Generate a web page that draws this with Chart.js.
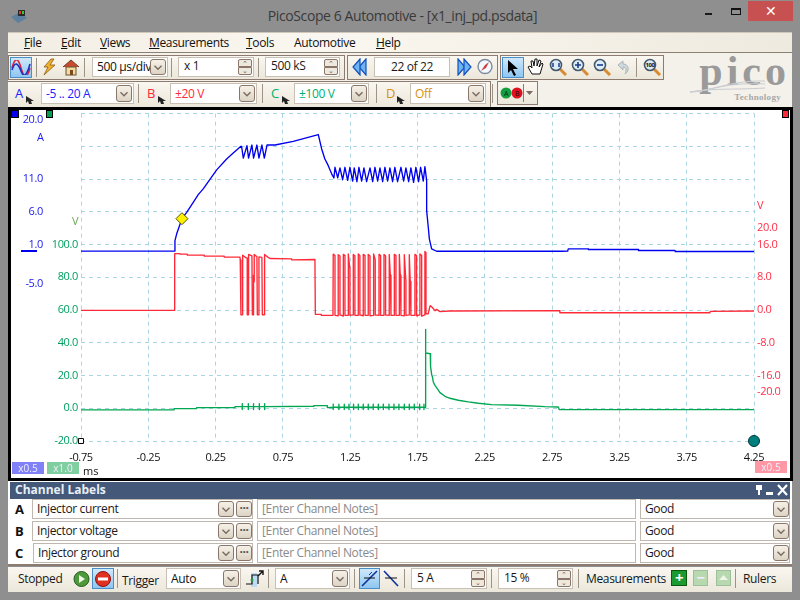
<!DOCTYPE html>
<html><head><meta charset="utf-8">
<script src="https://cdn.jsdelivr.net/npm/chart.js@4"></script>
<style>
html,body{margin:0;padding:0;width:800px;height:600px;overflow:hidden;background:#8f8f8f;font-family:"Open Sans","Noto Sans",sans-serif;font-size:12px;letter-spacing:-0.35px;color:#1a1a1a}
.a{position:absolute;white-space:nowrap;box-sizing:border-box}
u{text-decoration:underline}
</style></head><body>
<canvas id="c" style="position:absolute;left:12px;top:104px;width:776px;height:371px;z-index:5"></canvas>
<script>
const xTicks=[-0.75,-0.25,0.25,0.75,1.25,1.75,2.25,2.75,3.25,3.75,4.25];
const ampTicks=[20,11,6,1,-5];
const groundTicks=[100,80,60,40,20,0,-20];
const voltTicks=[20,16,8,0,-8,-16,-20];
const currentTimes=[-0.75,-0.054,-0.052,-0.039,-0.015,0,0.035,0.084,0.121,0.158,0.258,0.332,0.381,0.438,0.443,0.456,0.483,0.495,0.520,0.532,0.557,0.572,0.594,0.612,0.632,0.691,0.827,1.013,1.038,1.062,1.087,1.112,1.129,
1.137,1.157,1.174,1.194,1.211,1.231,1.248,1.268,1.280,1.300,1.315,1.335,1.352,1.372,1.397,1.417,1.434,1.454,1.471,1.491,1.508,1.528,1.545,1.565,1.582,1.602,1.627,1.647,1.664,1.684,1.701,1.721,1.738,1.758,1.773,1.793,1.805,
1.818,1.818,1.830,1.838,1.855,1.892,2.821,2.866,2.870,3.019,3.020,3.390,3.392,3.663,3.665,4.25];
const currentAmps=[0,0,1.6,2.64,4.05,4.95,5.93,7.46,8.63,9.5,12.4,14.07,14.98,16.0,16.0,14.2,16.1,14.2,16.2,14.2,16.2,14.2,16.2,14.2,16.2,16.2,16.75,17.8,15.6,14.07,13.05,11.8,11.17,
12.8,11.2,12.7,10.9,12.8,10.8,12.8,10.7,12.7,10.6,12.8,10.7,12.7,10.6,12.7,10.6,12.8,10.7,12.7,10.6,12.8,10.7,12.7,10.6,12.8,10.6,12.8,10.7,12.7,10.6,12.7,10.5,12.8,10.6,12.8,10.7,12.9,
10.76,6.19,3.64,1.87,0.35,-0.02,-0.02,0.0,0.35,0.35,0.24,0.24,0.09,0.09,-0.06,-0.06];
const voltageTimes=[-0.75,-0.054,-0.054,-0.015,-0.015,0.040,0.040,0.166,0.166,0.314,0.314,0.431,0.433,0.438,0.438,0.451,0.451,0.475,0.485,0.485,0.495,0.495,0.520,0.523,0.532,0.532,0.537,0.537,0.557,0.560,0.572,0.572,0.594,0.597,0.614,0.614,0.641,0.654,0.815,0.815,0.988,0.991,1.035,1.035,1.122,
1.124,1.137,1.137,1.161,1.161,1.174,1.174,1.199,1.199,1.211,1.211,1.236,1.236,1.248,1.248,1.273,1.273,1.285,1.285,1.310,1.310,1.322,1.322,1.347,1.347,1.360,1.360,1.384,1.384,1.397,1.397,1.424,1.424,1.436,1.436,1.464,1.464,1.476,1.476,1.501,1.501,1.513,1.513,1.540,1.540,1.548,1.553,1.553,1.578,1.578,1.590,1.590,1.615,1.615,1.622,1.627,1.627,1.652,1.652,1.664,1.664,1.689,1.689,1.696,1.701,1.701,1.731,1.731,1.743,1.743,1.768,1.768,1.781,1.781,1.805,1.805,1.813,1.813,1.830,1.843,1.847,1.862,1.880,1.892,1.917,1.991,2.806,2.808,3.539,3.923,3.925,4.25];
const voltageVolts=[-0.08,-0.08,13.8,13.8,13.66,13.66,13.41,13.41,13.17,13.17,12.93,12.93,12.2,12.2,-1.14,-1.14,13.41,12.76,12.76,-1.14,-1.14,13.58,13.25,-1.14,-1.14,8.54,6.91,13.58,13.0,-1.14,-1.14,13.0,12.85,-1.14,-1.14,13.58,12.85,12.6,12.52,12.27,12.36,-1.05,-1.05,-1.3,-1.3,
13.66,13.33,-1.3,-1.4,13.5,13.2,-1.2,-1.46,13.6,13.3,-1.3,-1.3,13.7,9.9,-1.3,-1.2,13.6,13.2,-1.3,-1.3,13.7,13.3,-1.2,-1.4,13.6,13.3,-1.3,-1.3,13.6,13.2,-1.4,-1.3,13.7,12.3,-1.2,-1.3,13.6,13.3,-1.3,-1.3,13.6,13.2,-1.2,-1.3,13.6,8.5,8.5,-1.3,-1.3,13.6,13.3,-1.3,-1.3,13.6,8.5,8.5,-1.3,-1.4,13.5,7.0,-1.3,-1.2,13.5,7.0,7.0,-1.3,-1.3,13.6,13.3,-1.4,-1.2,13.7,13.3,-1.5,-1.2,14.3,14.0,-0.9,-0.9,1.0,1.06,0.57,-0.16,0.16,-0.4,-0.24,-0.16,-0.65,-0.65,-0.65,-0.32,-0.24];
const groundTimes=[-0.75,-0.059,-0.059,0.109,0.109,0.394,0.394,
0.448,0.448,0.448,0.448,0.493,0.493,0.493,0.493,0.532,0.532,0.532,0.532,0.575,0.575,0.575,0.575,0.614,0.614,0.614,0.614,0.98,0.98,1.08,1.08,
1.124,1.124,1.124,1.124,1.166,1.166,1.166,1.166,1.206,1.206,1.206,1.206,1.241,1.241,1.241,1.241,1.275,1.275,1.275,1.275,1.310,1.310,1.310,1.310,1.347,1.347,1.347,1.347,1.384,1.384,1.384,1.384,1.421,1.421,1.421,1.421,1.459,1.459,1.459,1.459,1.496,1.496,1.496,1.496,1.538,1.538,1.538,1.538,1.575,1.575,1.575,1.575,1.612,1.612,1.612,1.612,1.652,1.652,1.652,1.652,1.689,1.689,1.689,1.689,1.726,1.726,1.726,1.726,1.766,1.766,1.766,1.766,1.798,1.798,1.798,1.798,
1.808,1.808,1.813,1.845,1.847,1.855,1.862,1.867,1.880,1.897,1.917,1.954,1.991,2.053,2.127,2.202,2.301,2.499,2.697,2.796,2.803,4.25];
const groundVolts=[-1.0,-1.0,-0.2,-0.2,0.4,0.4,1.0,
1.0,2.85,-0.8,1.0,1.0,2.85,-0.8,1.0,1.0,2.85,-0.8,1.0,1.0,2.85,-0.8,1.0,1.0,2.85,-0.8,1.0,1.2,1.63,1.63,0.4,
0.6,2.44,-0.8,0.6,0.6,2.44,-0.8,0.6,0.6,2.44,-0.8,0.6,0.6,2.44,-0.8,0.6,0.6,2.44,-0.8,0.6,0.6,2.44,-0.8,0.6,0.6,2.44,-0.8,0.6,0.6,2.44,-0.8,0.6,0.6,2.44,-0.8,0.6,0.6,2.44,-0.8,0.6,0.6,2.44,-0.8,0.6,0.6,2.44,-0.8,0.6,0.6,2.44,-0.8,0.6,0.6,2.44,-0.8,0.6,0.6,2.44,-0.8,0.6,0.6,2.44,-0.8,0.6,0.6,2.44,-0.8,0.6,0.6,2.44,-0.8,0.6,0.6,2.44,-0.8,0.6,
0.6,48.2,33.75,33.3,25.6,20.7,18.7,16.06,14,12,9.55,7.3,6.1,4.9,3.86,3.05,2.2,1.83,1.0,0.8,-0.8,-0.8];
const triggerTime=[0], triggerAmps=[4.95];
const rulerTime=[4.25], rulerVolts=[-20];
const originTime=[-0.75], originVolts=[-20];

function pts(xs,ys){return xs.map((x,i)=>({x:x,y:ys[i]}));}
function ln(xs,ys,col,axis){return {data:pts(xs,ys),borderColor:col,backgroundColor:col,borderWidth:1.35,borderJoinStyle:'round',pointRadius:0,tension:0,yAxisID:axis,clip:false};}
const tickFont={family:'"Open Sans"',size:11};
new Chart(document.getElementById('c'),{type:'line',data:{datasets:[
 Object.assign(ln(currentTimes,currentAmps,'#0000f0','yA'),{order:3}),
 Object.assign(ln(voltageTimes,voltageVolts,'#ff2a38','yB'),{order:2}),
 Object.assign(ln(groundTimes,groundVolts,'#00a651','yC'),{order:1}),
 {data:pts(triggerTime,triggerAmps),yAxisID:'yA',showLine:false,pointStyle:'rectRot',pointRadius:6,pointBackgroundColor:'#fff000',pointBorderColor:'#555500',pointBorderWidth:1,clip:false,order:0},
 {data:pts(rulerTime,rulerVolts),yAxisID:'yC',showLine:false,pointStyle:'circle',pointRadius:5.5,pointBackgroundColor:'#007f7f',pointBorderColor:'#003333',pointBorderWidth:1,clip:false,order:0},
 {data:pts(originTime,originVolts),yAxisID:'yC',showLine:false,pointStyle:'rect',pointRadius:3.5,pointBackgroundColor:'#ffffff',pointBorderColor:'#000',pointBorderWidth:1,clip:false,order:0}
]},options:{animation:false,responsive:false,devicePixelRatio:1,layout:{autoPadding:false,padding:{top:0,left:0,right:0,bottom:0}},
 plugins:{legend:{display:false},tooltip:{enabled:false}},
 scales:{
  x:{type:'linear',min:-0.75,max:4.25,afterBuildTicks:s=>{s.ticks=xTicks.map(v=>({value:v}));},
     afterFit:s=>{s.height=34;},
     border:{display:false,dash:[4,4]},grid:{color:'#a8d6e4',lineWidth:1,drawTicks:false},
     ticks:{autoSkip:false,maxRotation:0,color:'#111',font:tickFont,padding:10,callback:v=>v.toFixed(2)}},
  yC:{position:'left',weight:0,min:-20,max:180,afterBuildTicks:s=>{s.ticks=[-20,0,20,40,60,80,100,120,140,160,180].map(v=>({value:v}));},
     afterFit:s=>{s.width=36;},
     border:{display:false,dash:[4,4]},grid:{color:'#a8d6e4',lineWidth:1,drawTicks:false},
     ticks:{autoSkip:false,color:'#00a060',font:tickFont,padding:3,callback:v=>groundTicks.includes(v)?v.toFixed(1):''}},
  yA:{position:'left',weight:1,min:-29,max:21,afterBuildTicks:s=>{s.ticks=ampTicks.map(v=>({value:v}));},
     afterFit:s=>{s.width=33;},
     border:{display:false},grid:{display:false,drawTicks:false},
     ticks:{autoSkip:false,color:'#2020f0',font:tickFont,padding:2,callback:v=>v.toFixed(1)}},
  yB:{position:'right',min:-32,max:48,afterBuildTicks:s=>{s.ticks=voltTicks.map(v=>({value:v}));},
     afterFit:s=>{s.width=34;},
     border:{display:false},grid:{display:false,drawTicks:false},
     ticks:{autoSkip:false,color:'#ff3048',font:tickFont,padding:3,callback:v=>v.toFixed(1)}}
 }}});

/* ---- application chrome ---- */
function box(x,y,w,h,css,html){const d=document.createElement('div');d.className='a';d.style.cssText=`left:${x}px;top:${y}px;width:${w}px;height:${h}px;${css||''}`;if(html!==undefined)d.innerHTML=html;document.body.appendChild(d);return d;}
function txt(x,y,s,css){return box(x,y,0,16,`line-height:16px;overflow:visible;${css||''}`,s);}
const CREAM='background:linear-gradient(#faf7f1,#ece7da);';
function chev(x,y,w,h,up){const p=up?'M3 6 L6 3 L9 6':'M3 4 L6 7 L9 4';box(x,y,w,h,'border:1px solid #8a766a;border-radius:3px;background:linear-gradient(#f6f1e8,#dcd4c4);',`<svg width="${w-2}" height="${h-2}" viewBox="0 0 12 10" preserveAspectRatio="xMidYMid meet"><path d="${p}" fill="none" stroke="#7a6a60" stroke-width="1.2"/></svg>`);}
function combo(x,y,w,h,s,col){box(x,y,w,h,'background:#fff;border:1px solid #c8c0b4;');txt(x+5,y+(h-16)/2,s,`color:${col||'#111'}`);chev(x+w-18,y+2,16,h-4);}
function spin(x,y,w,h,s){box(x,y,w,h,'background:#fff;border:1px solid #c8c0b4;');txt(x+6,y+(h-16)/2-1,s);box(x+w-16,y+2,14,(h-4)/2,'border:1px solid #8a766a;border-radius:2px 2px 0 0;background:#efe9dd;text-align:center;font-size:7px;line-height:7px;color:#6a5a50','⌃');box(x+w-16,y+h/2,14,(h-4)/2,'border:1px solid #8a766a;border-radius:0 0 2px 2px;background:#efe9dd;text-align:center;font-size:7px;line-height:5px;color:#6a5a50','⌄');}
function sep(x,y,h){box(x,y,1,h,'background:#9d9488;');}
function svg(x,y,w,h,inner){box(x,y,w,h,'',`<svg width="${w}" height="${h}" viewBox="0 0 ${w} ${h}">${inner}</svg>`);}
const HI='background:linear-gradient(#cfe8fb,#8ec6f2);border:1px solid #4a90c8;';
const mag=(cx,cy,inner)=>`<line x1="${cx+4}" y1="${cy+4}" x2="${cx+10}" y2="${cy+10}" stroke="#d88a30" stroke-width="3"/><circle cx="${cx}" cy="${cy}" r="5.5" fill="#dcecf8" stroke="#44586c" stroke-width="1.6"/>${inner||''}`;

// title bar
svg(10,8,18,16,'<path d="M1 9 L10 4 L17 10 L8 15 Z" fill="#5f7f9f"/><rect x="8" y="2" width="7" height="6" fill="#2a2a2a"/><rect x="9" y="3" width="2" height="3" fill="#d33"/><rect x="12" y="3" width="2" height="3" fill="#3c3"/>');
box(0,6,800,20,'text-align:center;line-height:20px;font-size:14px;letter-spacing:-0.4px;color:#3a3a3a;padding-left:5px','PicoScope 6 Automotive - [x1_inj_pd.psdata]');
box(705,13,7,2,'background:#1a1a1a');
box(731,8,10,7,'border:1px solid #111;border-top-width:2px');
box(748,1,45,20,'background:#c75050;color:#fff;text-align:center;line-height:20px;font-size:14px','✕');

// menu
box(8,32,784,21,'background:linear-gradient(90deg,#f3eee4,#faf7f0 40%,#efeadf);border-top:1px solid #cfc8ba;border-bottom:1px solid #8a8074');
[[24,'<u>F</u>ile'],[61,'<u>E</u>dit'],[100,'<u>V</u>iews'],[149,'<u>M</u>easurements'],[246,'<u>T</u>ools'],[294,'Automotive'],[376,'<u>H</u>elp']].forEach(m=>txt(m[0],35,m[1],'color:#111'));
// toolbars background
box(8,53,784,54,'background:#f4f1ea;');
box(8,55,337,25,'border:1px solid #8c7b6e;'+CREAM);
box(347,55,151,25,'border:1px solid #8c7b6e;'+CREAM);
box(500,55,164,25,'border:1px solid #8c7b6e;'+CREAM);
box(8,81,483,26,CREAM+'border-top:1px solid #8c7b6e;border-right:1px solid #8c7b6e');
box(497,81,41,24,'border:1px solid #8c7b6e;'+CREAM);
// row 1
box(10,57,22,21,HI);
svg(11,60,20,15,'<path d="M1 8 C4 -3 7 -3 10 8 S 16 19 19 8" fill="none" stroke="#e02030" stroke-width="1.6"/><path d="M1 10 C4 1 7 3 10 11 S 16 15 19 4" fill="none" stroke="#2030c0" stroke-width="1.6"/>');
sep(36,58,19);
svg(41,58,16,18,'<path d="M10 1 L3 9 L7 9 L3 17 L14 7 L9 7 L13 1 Z" fill="#f0b030" stroke="#8a5a10" stroke-width=".8"/>');
svg(62,58,18,18,'<path d="M1 9 L9 2 L17 9" fill="#c84a30" stroke="#6a3a20"/><rect x="4" y="9" width="10" height="8" fill="#f3dba0" stroke="#6a5030"/><rect x="8" y="12" width="3" height="5" fill="#7a4a20"/>');
sep(84,58,19);
combo(92,57,76,20,'500 µs/div');
sep(171,58,19);
spin(178,57,76,20,'x 1');
sep(258,58,19);
spin(265,57,75,20,'500 kS');
const chevBlue=(x,dir)=>{const d=dir>0?['M2 1 L9 9 L2 17 Z','M8 1 L15 9 L8 17 Z']:['M14 1 L7 9 L14 17 Z','M8 1 L1 9 L8 17 Z'];svg(x,58,16,18,d.map(p=>`<path d="${p}" fill="#6db4f0" stroke="#1050c0" stroke-width="1.2"/>`).join(''));};
chevBlue(352,-1);
box(374,57,76,20,'background:#fff;border:1px solid #c8c0b4;text-align:center;line-height:18px','22 of 22');
chevBlue(456,1);
svg(477,58,16,17,'<circle cx="8" cy="8.5" r="7" fill="#f4f8ff" stroke="#7a8aa0" stroke-width="1.4"/><path d="M4 13 L8 7 L12 4 L9 10 Z" fill="#d04040"/>');
box(502,57,22,21,HI);
svg(506,59,14,18,'<path d="M2 1 L2 14 L5 11 L8 17 L10 16 L7 10 L12 10 Z" fill="#000"/>');
svg(527,58,17,18,'<path d="M5 16 L1 9 L3 8 L5 10 L4 3 L6 3 L7 8 L8 1 L10 1 L10 8 L12 2 L14 3 L12 9 L15 5 L16 6 L13 16 Z" fill="#fff" stroke="#111" stroke-width="1"/>');
svg(549,58,18,18,mag(7,7,'<path d="M4 5 V9 M10 5 V9" stroke="#1a3a8a" stroke-width="1.5"/>'));
svg(571,58,18,18,mag(7,7,'<path d="M4 7 H10 M7 4 V10" stroke="#1a3a8a" stroke-width="1.6"/>'));
svg(593,58,18,18,mag(7,7,'<path d="M4 7 H10" stroke="#1a3a8a" stroke-width="1.6"/>'));
svg(615,59,16,16,'<path d="M3 6 L8 2 L8 5 C14 5 15 12 10 15 C12 11 11 8 8 8 L8 11 Z" fill="#cfd8dc" stroke="#aab4ba"/>');
sep(636,58,19);
svg(643,58,18,18,mag(7,7,'<text x="7" y="9" font-size="6" text-anchor="middle" fill="#111" font-family="Open Sans" font-weight="bold">100</text>'));
// pico logo
box(690,52,100,42,'font-family:\'Liberation Serif\';font-weight:bold;font-size:42px;line-height:38px;letter-spacing:4px;color:#9a9a9a;text-align:right;padding-right:0','pico');
box(690,91,100,13,'font-family:\'Liberation Serif\';font-size:9px;line-height:13px;color:#a8a8a8;letter-spacing:0.3px;text-align:right;padding-right:9px;font-weight:bold','Technology');
svg(690,80,75,14,'<path d="M0 12 C25 10 35 2 75 4 M0 12 C25 8 40 10 75 8 M0 12 C20 12 40 0 75 1" stroke="#c8ccd0" fill="none"/>');
// row 2
const chanRow=[[15,'A','#2020ff',41,93,'-5 .. 20 A'],[147,'B','#ff2a38',170,87,'±20 V'],[271,'C','#00b070',294,75,'±100 V'],[386,'D','#d89010',410,76,'Off']];
chanRow.forEach(r=>{txt(r[0],85,r[1],`color:${r[2]};font-size:13px`);svg(r[0]+10,92,10,10,'<path d="M1 1 L9 6 L6 6 L7 9 L4 9 L3 6 L1 8 Z" fill="#222"/>');combo(r[3],83,r[4],21,r[5],r[2]);});
sep(138,84,19);sep(262,84,19);sep(376,84,19);sep(492,84,19);
svg(499,84,36,18,'<circle cx="7" cy="9" r="5.5" fill="#10a040"/><text x="7" y="12" font-size="7" text-anchor="middle" fill="#022">A</text><circle cx="18" cy="9" r="5.5" fill="#e01020"/><text x="18" y="12" font-size="7" text-anchor="middle" fill="#300">B</text><rect x="24" y="0" width="1" height="18" fill="#8c7b6e"/><path d="M27 7 L34 7 L30.5 11 Z" fill="#7a6a60"/>');
// plot panel
box(8,107,785,374,'background:#fff;border:solid #000;border-width:3px 3px 3px 3px;z-index:1');
box(11,110,8,8,'background:#0000ee;border:1px solid #000;z-index:6');
box(46,110,7,8,'background:#00a050;border:1px solid #000;z-index:6');
box(782,110,7,8,'background:#ff2a38;border:1px solid #000;z-index:6');
box(21,250,16,2,'background:#0000f0;z-index:6');
const lab='z-index:6;font-size:11px;letter-spacing:0;';
txt(37,129,'A',lab+'color:#2020f0');
txt(72,213,'V',lab+'color:#6aa84f');
txt(757,197,'V',lab+'color:#ff3048');
txt(83,463,'ms',lab+'color:#111');
const tag='z-index:6;color:#eef;text-align:center;line-height:12px;font-size:10px;letter-spacing:0;';
box(12,462,32,12,tag+'background:#8080f8','x0.5');
box(47,462,32,12,tag+'background:#80cfa0','x1.0');
box(755,461,32,12,tag+'background:#ff98a4','x0.5');
// channel labels
box(8,481,784,83,'background:#fff;');
box(10,482,780,17,'background:#44587a;color:#e8eef5;font-weight:bold;line-height:16px;padding-left:5px;font-size:12px;letter-spacing:0','Channel Labels');
svg(751,484,40,13,'<path d="M7 1 H13 V6 H11 V11 H9 V6 H7 Z" fill="#fff" transform="translate(-2,0)"/><rect x="15" y="8" width="7" height="3" fill="#fff"/><path d="M27 1 L36 11 M36 1 L27 11" stroke="#fff" stroke-width="2.2"/>');
const rows=[['A','Injector current',499,32],['B','Injector voltage',521,32],['C','Injector ground',543,33]];
rows.forEach(r=>{const y=r[2];
 txt(15,y+2,r[0],'font-weight:bold;font-size:13px;color:#111');
 box(r[3],y,253-r[3],20,'border:1px solid #c0b8ae;background:#fff');
 txt(r[3]+5,y+2,r[1]);
 chev(218,y+2,16,16);
 box(236,y+2,16,16,'border:1px solid #8a766a;border-radius:3px;background:linear-gradient(#f6f1e8,#dcd4c4);text-align:center;line-height:11px;color:#555;font-weight:bold','···');
 box(257,y,379,20,'border:1px solid #c0b8ae');
 txt(262,y+2,'[Enter Channel Notes]','color:#8a8a8a');
 box(640,y,150,20,'border:1px solid #c0b8ae');
 txt(645,y+2,'Good');
 chev(773,y+2,16,16);
});
// bottom bar
box(8,564,784,2,'background:#8c7b6e');
box(8,567,784,25,CREAM);
txt(18,571,'Stopped');
svg(73,570,18,18,'<circle cx="8.5" cy="9" r="7.5" fill="#4c9a3a" stroke="#2a5a20"/><path d="M6 5 L12 9 L6 13 Z" fill="#f0f8ea"/>');
box(92,568,22,21,HI);
svg(94,570,18,18,'<circle cx="9" cy="9" r="7.5" fill="#e03020" stroke="#901010"/><rect x="4" y="7.5" width="10" height="3" fill="#fff"/>');
sep(117,569,19);
txt(122,573,'Trigger');
combo(166,568,75,21,'Auto');
svg(246,569,18,19,'<rect x="5" y="4" width="6" height="14" fill="#bcdcf4"/><path d="M0 15 H6 V6 H12 V15" fill="none" stroke="#111" stroke-width="1.2"/><path d="M12 7 L17 2 M13 2 H17 V6" fill="none" stroke="#111" stroke-width="1.4"/><circle cx="6" cy="11" r="1.5" fill="#20a040"/>');
sep(268,569,19);
combo(275,568,75,21,'A');
sep(354,569,19);
box(359,568,21,21,HI);
svg(361,570,17,17,'<path d="M1 16 L16 1" stroke="#1030a0" stroke-width="1.6"/><path d="M3 8 H14" stroke="#111"/><path d="M8 5 L11 2" stroke="#1030a0"/>');
svg(383,570,16,17,'<path d="M1 1 L15 16" stroke="#1030a0" stroke-width="1.6"/><path d="M2 8 H14" stroke="#111"/>');
sep(404,569,19);
spin(411,568,76,21,'5 A');
sep(491,569,19);
spin(498,568,75,21,'15 %');
sep(578,569,19);
txt(586,571,'Measurements','color:#0a1a2a');
box(671,570,16,16,'background:#1a9a30;border:1px solid #0a5a10;color:#fff;font-weight:bold;text-align:center;line-height:13px;font-size:15px','+');
box(693,570,15,16,'background:#b8d8b0;border:1px solid #9cc09a;color:#eef;font-weight:bold;text-align:center;line-height:13px;font-size:15px','−');
svg(716,570,15,16,'<rect x=".5" y=".5" width="14" height="15" fill="#b8d8b0" stroke="#9cc09a"/><path d="M3 10 L7.5 5 L12 10 Z" fill="#eef6ea"/>');
sep(735,569,19);
txt(743,571,'Rulers');
</script>
</body></html>
